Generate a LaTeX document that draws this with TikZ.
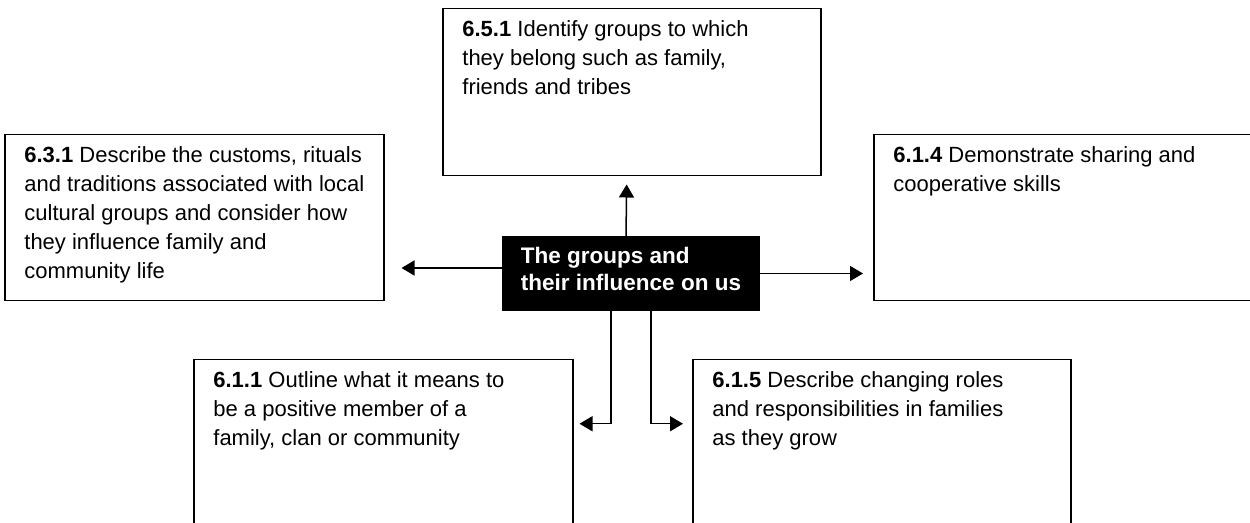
\documentclass[tikz,border=0pt]{standalone}
\usepackage{fontspec}
\setmainfont{Liberation Sans}
\usetikzlibrary{arrows.meta,positioning}

\tikzset{
  outcome/.style={draw, line width=0.75pt, rectangle, anchor=north west, inner sep=0pt},
  outtext/.style={anchor=north west, align=left, inner sep=0pt, font=\fontsize{11}{14.5}\selectfont},
  hubbox/.style={draw, fill=black, line width=0.75pt, rectangle, inner sep=0pt, align=left,
    text=white, font=\fontsize{11.25}{13.5}\selectfont\bfseries, text depth=5pt,
    minimum width=128pt, minimum height=36.5pt},
  link/.style={line width=0.75pt, -{Triangle[length=6.5pt,width=7.5pt]}}
}

\begin{document}
\begin{tikzpicture}[x=0.5pt,y=-0.5pt]
  \useasboundingbox (0,0) rectangle (1250,523);
  \clip (0,0) rectangle (1250,523);

  % outcome boxes
  \node[outcome, minimum width=189pt, minimum height=83.5pt] (groups) at (442,8) {};
  \node[outcome, minimum width=189.5pt, minimum height=83pt] (customs) at (4,134) {};
  \node[outcome, minimum width=191.5pt, minimum height=83pt] (sharing) at (873,134) {};
  \node[outcome, minimum width=189.5pt, minimum height=100pt] (member) at (193,359) {};
  \node[outcome, minimum width=189pt, minimum height=100.5pt] (roles) at (692,359) {};

  \node[outtext] (groupstext) at ([shift={(20,12)}]groups.north west)
    {\textbf{6.5.1} Identify groups to which\\they belong such as family,\\friends and tribes};
  \node[outtext] (customstext) at ([shift={(20,12)}]customs.north west)
    {\textbf{6.3.1} Describe the customs, rituals\\and traditions associated with local\\cultural groups and consider how\\they influence family and\\community life};
  \node[outtext] (sharingtext) at ([shift={(20,12)}]sharing.north west)
    {\textbf{6.1.4} Demonstrate sharing and\\cooperative skills};
  \node[outtext] (membertext) at ([shift={(20,12)}]member.north west)
    {\textbf{6.1.1} Outline what it means to\\be a positive member of a\\family, clan or community};
  \node[outtext] (rolestext) at ([shift={(20,12)}]roles.north west)
    {\textbf{6.1.5} Describe changing roles\\and responsibilities in families\\as they grow};

  % centre
  \node[hubbox] (hub) at (631,273.5) {The groups and\\their influence on us};

  % arrows out of the centre
  \draw[link, shorten >=4pt] ([xshift=-2.5pt]hub.north) -- ([xshift=-2.5pt]groups.south);

  \coordinate (lt) at ([yshift=2.75pt]hub.west);
  \draw[link, shorten >=8.5pt] (lt) -- (lt -| customs.east);
  \draw[link, shorten >=5pt] (hub.east) -- (hub.east -| sharing.west);

  \coordinate (dl) at ([xshift=-10pt]hub.south);
  \coordinate (dr) at ([xshift=10pt]hub.south);
  \coordinate (dlb) at ([yshift=-56.5pt]dl);
  \coordinate (drb) at ([yshift=-56.5pt]dr);
  \draw[link, shorten >=3pt] (dl) -- (dlb) -- (dlb -| member.east);
  \draw[link, shorten >=4.5pt] (dr) -- (drb) -- (drb -| roles.west);
\end{tikzpicture}
\end{document}
